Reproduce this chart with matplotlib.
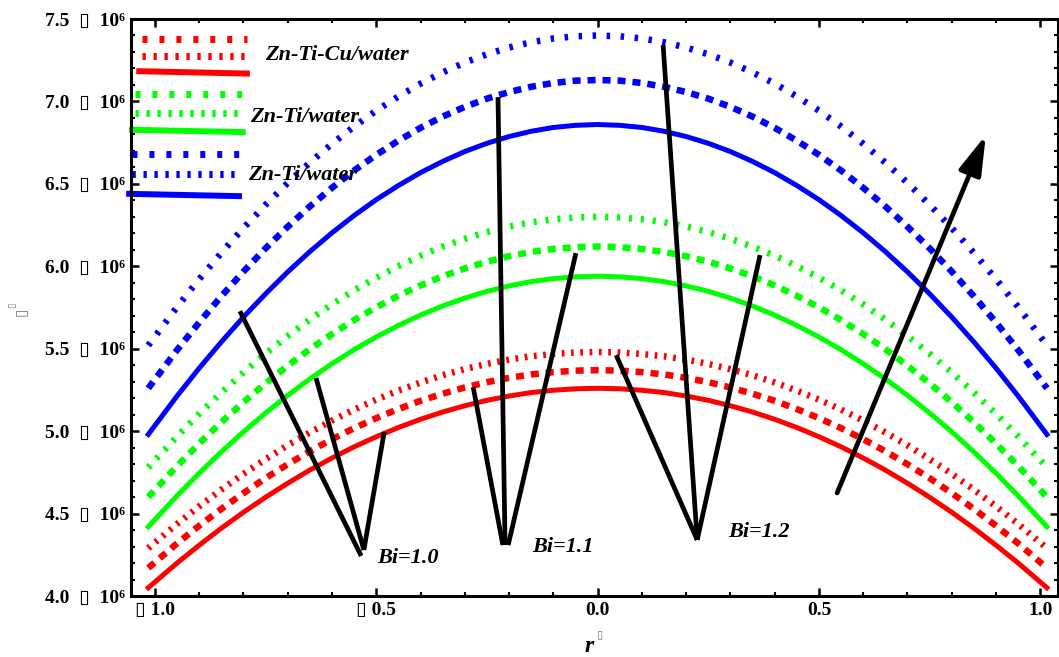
import matplotlib
matplotlib.use('Agg')
import matplotlib.pyplot as plt
from matplotlib.ticker import MultipleLocator, FixedLocator, FixedFormatter
from matplotlib.patches import FancyArrowPatch

plt.rcParams['lines.scale_dashes'] = False
plt.rcParams['font.family'] = ['Liberation Serif', 'DejaVu Sans']

# radial coordinate
r = [-1.015, -0.95, -0.9, -0.85, -0.8, -0.75, -0.7, -0.65, -0.6, -0.55, -0.5,
     -0.45, -0.4, -0.35, -0.3, -0.25, -0.2, -0.15, -0.1, -0.05, 0.0,
     0.05, 0.1, 0.15, 0.2, 0.25, 0.3, 0.35, 0.4, 0.45, 0.5,
     0.55, 0.6, 0.65, 0.7, 0.75, 0.8, 0.85, 0.9, 0.95, 1.015]

# values in units of 10^6
cu_solid = [4.050, 4.200, 4.308, 4.411, 4.508, 4.599, 4.684, 4.764, 4.837, 4.905, 4.966,
            5.022, 5.072, 5.116, 5.154, 5.187, 5.213, 5.234, 5.248, 5.257, 5.260,
            5.257, 5.248, 5.234, 5.213, 5.187, 5.154, 5.116, 5.072, 5.022, 4.966,
            4.905, 4.837, 4.764, 4.684, 4.599, 4.508, 4.411, 4.308, 4.200, 4.050]
cu_dashed = [4.170, 4.319, 4.426, 4.528, 4.624, 4.715, 4.799, 4.878, 4.951, 5.018, 5.079,
             5.134, 5.184, 5.227, 5.265, 5.297, 5.323, 5.344, 5.358, 5.367, 5.370,
             5.367, 5.358, 5.344, 5.323, 5.297, 5.265, 5.227, 5.184, 5.134, 5.079,
             5.018, 4.951, 4.878, 4.799, 4.715, 4.624, 4.528, 4.426, 4.319, 4.170]
cu_dotted = [4.290, 4.437, 4.544, 4.645, 4.741, 4.830, 4.914, 4.992, 5.064, 5.131, 5.191,
             5.246, 5.295, 5.339, 5.376, 5.408, 5.434, 5.454, 5.468, 5.477, 5.480,
             5.477, 5.468, 5.454, 5.434, 5.408, 5.376, 5.339, 5.295, 5.246, 5.191,
             5.131, 5.064, 4.992, 4.914, 4.830, 4.741, 4.645, 4.544, 4.437, 4.290]

g_solid = [4.420, 4.608, 4.745, 4.874, 4.996, 5.110, 5.217, 5.317, 5.409, 5.494, 5.571,
           5.641, 5.704, 5.759, 5.807, 5.848, 5.881, 5.907, 5.925, 5.936, 5.940,
           5.936, 5.925, 5.907, 5.881, 5.848, 5.807, 5.759, 5.704, 5.641, 5.571,
           5.494, 5.409, 5.317, 5.217, 5.110, 4.996, 4.874, 4.745, 4.608, 4.420]
g_dashed = [4.600, 4.788, 4.925, 5.054, 5.176, 5.290, 5.397, 5.497, 5.589, 5.674, 5.751,
            5.821, 5.884, 5.939, 5.987, 6.028, 6.061, 6.087, 6.105, 6.116, 6.120,
            6.116, 6.105, 6.087, 6.061, 6.028, 5.987, 5.939, 5.884, 5.821, 5.751,
            5.674, 5.589, 5.497, 5.397, 5.290, 5.176, 5.054, 4.925, 4.788, 4.600]
g_dotted = [4.780, 4.968, 5.105, 5.234, 5.356, 5.470, 5.577, 5.677, 5.769, 5.854, 5.931,
            6.001, 6.064, 6.119, 6.167, 6.208, 6.241, 6.267, 6.285, 6.296, 6.300,
            6.296, 6.285, 6.267, 6.241, 6.208, 6.167, 6.119, 6.064, 6.001, 5.931,
            5.854, 5.769, 5.677, 5.577, 5.470, 5.356, 5.234, 5.105, 4.968, 4.780]

b_solid = [4.980, 5.213, 5.382, 5.541, 5.692, 5.833, 5.966, 6.089, 6.203, 6.308, 6.404,
           6.490, 6.568, 6.636, 6.696, 6.746, 6.787, 6.819, 6.842, 6.855, 6.860,
           6.855, 6.842, 6.819, 6.787, 6.746, 6.696, 6.636, 6.568, 6.490, 6.404,
           6.308, 6.203, 6.089, 5.966, 5.833, 5.692, 5.541, 5.382, 5.213, 4.980]
b_dashed = [5.260, 5.492, 5.659, 5.818, 5.968, 6.109, 6.240, 6.363, 6.476, 6.581, 6.676,
            6.762, 6.840, 6.908, 6.967, 7.017, 7.057, 7.089, 7.112, 7.126, 7.130,
            7.126, 7.112, 7.089, 7.057, 7.017, 6.967, 6.908, 6.840, 6.762, 6.676,
            6.581, 6.476, 6.363, 6.240, 6.109, 5.968, 5.818, 5.659, 5.492, 5.260]
b_dotted = [5.520, 5.753, 5.922, 6.081, 6.232, 6.373, 6.506, 6.629, 6.743, 6.848, 6.944,
            7.030, 7.108, 7.176, 7.236, 7.286, 7.327, 7.359, 7.382, 7.395, 7.400,
            7.395, 7.382, 7.359, 7.327, 7.286, 7.236, 7.176, 7.108, 7.030, 6.944,
            6.848, 6.743, 6.629, 6.506, 6.373, 6.232, 6.081, 5.922, 5.753, 5.520]

legend_names = ['Zn-Ti-Cu/water', 'Zn-Ti/water', 'Zn-Ti/water']
bi_labels = ['Bi=1.0', 'Bi=1.1', 'Bi=1.2']

# pointer lines for the Bi labels: (x0, y0, x1, y1) in data units
pointers = [
    (-0.808, 5.728, -0.534, 4.243),
    (-0.636, 5.322, -0.528, 4.279),
    (-0.482, 4.995, -0.528, 4.279),
    (-0.281, 5.267, -0.214, 4.309),
    (-0.225, 7.026, -0.209, 4.309),
    (-0.049, 6.080, -0.202, 4.309),
    (0.042, 5.461, 0.225, 4.340),
    (0.148, 7.341, 0.225, 4.340),
    (0.367, 6.068, 0.225, 4.340),
]
bi_pos = [(-0.498, 4.230), (-0.148, 4.297), (0.295, 4.388)]

RED = '#ff0000'
GREEN = '#00ff00'
BLUE = '#0000ff'

fig = plt.figure(figsize=(10.59, 6.57), dpi=100)
ax = fig.add_axes([131 / 1059, 1 - 596 / 657, 927 / 1059, 577 / 657])

dashed = (0, (5.8, 5.0))
dot_red = (0, (1.95, 4.75))
dot_green = (0, (2.2, 6.4))
dot_blue = (0, (2.5, 7.6))

ax.plot(r, cu_dotted, color=RED, lw=4.7, linestyle=dot_red)
ax.plot(r, cu_dashed, color=RED, lw=4.7, linestyle=dashed)
ax.plot(r, cu_solid, color=RED, lw=3.6)
ax.plot(r, g_dotted, color=GREEN, lw=4.7, linestyle=dot_green)
ax.plot(r, g_dashed, color=GREEN, lw=4.7, linestyle=dashed)
ax.plot(r, g_solid, color=GREEN, lw=3.6)
ax.plot(r, b_dotted, color=BLUE, lw=4.7, linestyle=dot_blue)
ax.plot(r, b_dashed, color=BLUE, lw=4.7, linestyle=dashed)
ax.plot(r, b_solid, color=BLUE, lw=3.6)

# pointers and labels
for x0, y0, x1, y1 in pointers:
    ax.plot([x0, x1], [y0, y1], color='black', lw=3.4, solid_capstyle='butt', zorder=5)
for (bx, by), lab in zip(bi_pos, bi_labels):
    ax.text(bx, by, lab, fontsize=16, fontweight='bold', fontstyle='italic',
            ha='left', va='center', zorder=6)

arrow = FancyArrowPatch((0.541, 4.625), (0.877, 6.796),
                        arrowstyle='-|>,head_length=24,head_width=7',
                        mutation_scale=1, lw=3.4, color='black',
                        shrinkA=0, shrinkB=0, zorder=6)
ax.add_patch(arrow)

# hand-made legend (axes fractions)
sparse = (0, (3.6, 8.6))
dense = (0, (2.4, 5.5))
legend_rows = [
    (RED, 0.9653, 0.9359, 0.9075, 0.0119, 0.125),
    (GREEN, 0.870, 0.837, 0.806, 0.004, 0.1205),
    (BLUE, 0.766, 0.731, 0.695, 0.001, 0.1165),
]
text_pos = [(0.1446, 0.9376), (0.128, 0.830), (0.126, 0.7296)]
for (c, y1, y2, y3, xa, xb), name, (tx, ty) in zip(legend_rows, legend_names, text_pos):
    ax.plot([xa, xb], [y1, y1], color=c, lw=5, linestyle=sparse,
            transform=ax.transAxes, clip_on=False)
    ax.plot([xa, xb], [y2, y2], color=c, lw=5, linestyle=dense,
            transform=ax.transAxes, clip_on=False)
    ax.plot([xa - 0.003, xb], [y3 + 0.002, y3 - 0.002], color=c, lw=4.3,
            transform=ax.transAxes, clip_on=False)
    ax.text(tx, ty, name, transform=ax.transAxes, fontsize=16,
            fontweight='bold', fontstyle='italic', ha='left', va='center')

ax.set_xlim(-1.054, 1.040)
ax.set_ylim(4.0, 7.5)

xt = [-1.0, -0.5, 0.0, 0.5, 1.0]
xt_labels = ['\u25af 1.0', '\u25af 0.5', '0.0', '0.5', '1.0']
yt = [4.0, 4.5, 5.0, 5.5, 6.0, 6.5, 7.0, 7.5]
yt_labels = ['%.1f  \u25af  10\u2076' % v for v in yt]

ax.xaxis.set_major_locator(FixedLocator(xt))
ax.xaxis.set_major_formatter(FixedFormatter(xt_labels))
ax.yaxis.set_major_locator(FixedLocator(yt))
ax.yaxis.set_major_formatter(FixedFormatter(yt_labels))
ax.xaxis.set_minor_locator(MultipleLocator(0.1))
ax.yaxis.set_minor_locator(MultipleLocator(0.1))

ax.tick_params(which='both', direction='in', top=True, right=True)
ax.tick_params(which='major', length=5.5, width=1.8, pad=4, labelsize=14)
ax.tick_params(which='minor', length=3, width=1.5)
for lab in ax.get_xticklabels() + ax.get_yticklabels():
    lab.set_fontweight('bold')
for s in ax.spines.values():
    s.set_linewidth(2.2)

# axis labels
fig.text(22 / 1059, 1 - 312 / 657, '\u25af', rotation=90, fontsize=11,
         color='#777777', ha='center', va='center')
fig.text(13 / 1059, 1 - 305 / 657, '\u25af', rotation=90, fontsize=7,
         color='#777777', ha='center', va='center')
fig.text(589 / 1059, 1 - 646 / 657, 'r', fontsize=17, fontweight='bold',
         fontstyle='italic', ha='center', va='center')
fig.text(600 / 1059, 1 - 635 / 657, '\u25af', fontsize=8, color='#777777',
         ha='center', va='center')

fig.savefig('out.png', dpi=100)
